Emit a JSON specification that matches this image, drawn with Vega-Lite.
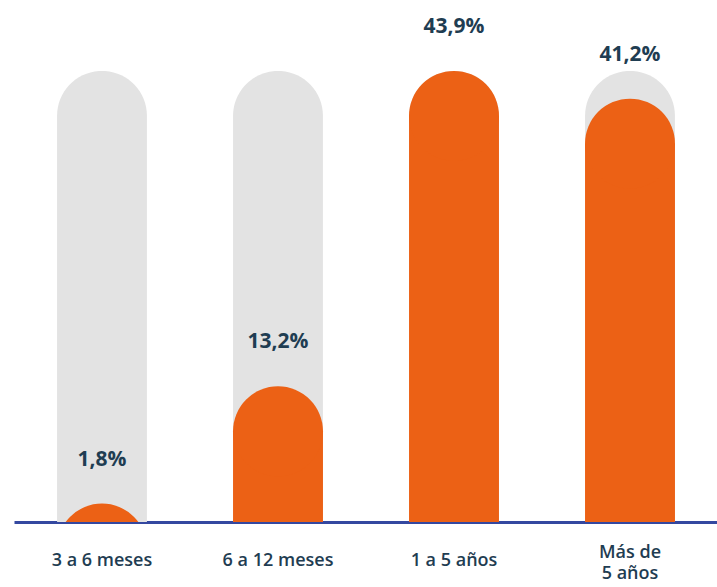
{
  "$schema": "https://vega.github.io/schema/vega-lite/v6.json",
  "width": 717,
  "height": 522,
  "padding": {"left": 0, "top": 0, "right": 0, "bottom": 65},
  "autosize": {"type": "none"},
  "background": "white",
  "config": {"view": {"stroke": null}},
  "data": {
    "values": [
      {"cat": "3 a 6 meses", "value": 1.8, "label": "1,8%", "full": 43.9},
      {"cat": "6 a 12 meses", "value": 13.2, "label": "13,2%", "full": 43.9},
      {"cat": "1 a 5 años", "value": 43.9, "label": "43,9%", "full": 43.9},
      {"cat": "Más de 5 años", "value": 41.2, "label": "41,2%", "full": 43.9}
    ]
  },
  "encoding": {
    "x": {
      "field": "cat",
      "type": "nominal",
      "sort": null,
      "scale": {"range": [14, 718], "paddingInner": 0.489, "paddingOuter": 0.2445},
      "axis": {
        "title": null,
        "labelAngle": 0,
        "ticks": false,
        "domainColor": "#3448A0",
        "domainWidth": 3,
        "labelFont": "Open Sans",
        "labelFontSize": 18,
        "labelFontWeight": 600,
        "labelColor": "#1F3D52",
        "labelBaseline": "middle",
        "labelPadding": {"condition": {"test": "datum.value == 'Más de 5 años'", "value": 30}, "value": 38},
        "labelLineHeight": 21,
        "labelExpr": "datum.value == 'Más de 5 años' ? ['Más de', '5 años'] : datum.label"
      }
    }
  },
  "layer": [
    {
      "mark": {"type": "bar", "color": "#E3E3E3", "cornerRadiusEnd": 45},
      "encoding": {
        "y": {"field": "full", "type": "quantitative", "scale": {"domain": [0, 50.8]}, "axis": null}
      }
    },
    {
      "mark": {"type": "bar", "color": "#EC6115", "yOffset": 45, "clip": true},
      "encoding": {
        "y": {"field": "value", "type": "quantitative", "scale": {"domain": [0, 50.8]}, "axis": null},
        "y2": {"datum": 0}
      }
    },
    {
      "mark": {"type": "point", "filled": true, "shape": "circle", "size": 8100, "opacity": 1, "color": "#EC6115", "yOffset": 45, "clip": true},
      "encoding": {
        "y": {"field": "value", "type": "quantitative", "scale": {"domain": [0, 50.8]}, "axis": null}
      }
    },
    {
      "mark": {"type": "text", "dy": -38, "baseline": "alphabetic", "font": "Open Sans", "fontWeight": "bold", "fontSize": 21, "color": "#1F3D52"},
      "encoding": {
        "y": {"field": "value", "type": "quantitative", "scale": {"domain": [0, 50.8]}, "axis": null},
        "text": {"field": "label"}
      }
    }
  ]
}
